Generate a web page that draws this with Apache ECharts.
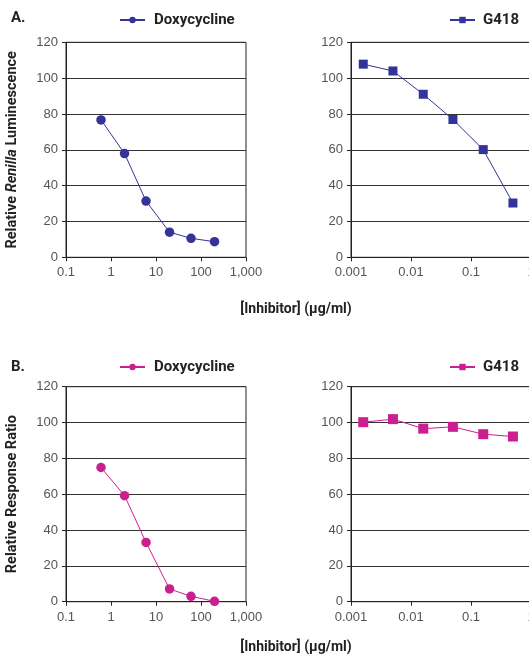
<!DOCTYPE html>
<html>
<head>
<meta charset="utf-8">
<script src="https://cdn.jsdelivr.net/npm/echarts@6/dist/echarts.min.js"></script>
<style>
html,body{margin:0;padding:0;background:#fff;}
#c{width:529px;height:655px;}
</style>
</head>
<body>
<div id="c"></div>
<script>
// ---- data ----
const doxyConc = [0.6, 2, 6, 20, 60, 200];
const g418Conc = [0.0016, 0.005, 0.016, 0.05, 0.16, 0.5];
const doxyLuminescence = [76.7, 57.9, 31.4, 14.0, 10.6, 8.7];
const g418Luminescence = [107.8, 104.0, 91.0, 76.9, 60.1, 30.3];
const doxyRatio = [74.9, 59.2, 33.1, 7.1, 3.0, 0.2];
const g418Ratio = [100.2, 101.9, 96.6, 97.6, 93.5, 92.2];
const yTicks = [0, 20, 40, 60, 80, 100, 120];
const xTicksDoxy = ['0.1', '1', '10', '100', '1,000'];
const xTicksG418 = ['0.001', '0.01', '0.1', '1'];
const seriesNames = {doxA: 'Doxycycline', g418A: 'G418', doxB: 'Doxycycline', g418B: 'G418'};
const yTitleA = '{n|Relative }{i|Renilla}{n| Luminescence}';
const yTitleB = 'Relative Response Ratio';
const xTitle = '[Inhibitor] (\u00b5g/ml)';
const panelLabels = ['A.', 'B.'];

const BLUE = '#333399';
const MAG = '#cc1f8f';
const TICK_FONT = {color: '#555', fontSize: 13, fontFamily: 'Liberation Sans, Arial, sans-serif'};
const TITLE_FONT = 'Roboto, Liberation Sans, sans-serif';

const pair = (xs, ys) => xs.map((x, i) => [x, ys[i]]);

const gridTops = [42.3, 386.7];
const grids = [];
const xAxes = [];
const yAxes = [];
const lefts = [66, 351];
for (let r = 0; r < 2; r++) {
  for (let c = 0; c < 2; c++) {
    grids.push({left: lefts[c], top: gridTops[r], width: 180, height: 215,
      outerBoundsMode: 'none', containLabel: false,
      show: true, borderColor: '#222', borderWidth: 1, backgroundColor: 'transparent'});
    const idx = r * 2 + c;
    const labels = c === 0 ? xTicksDoxy : xTicksG418;
    xAxes.push({
      gridIndex: idx, type: 'log', logBase: 10,
      min: c === 0 ? 0.1 : 0.001, max: c === 0 ? 1000 : 1,
      axisLine: {show: true, onZero: false, lineStyle: {color: '#222', width: 1}},
      axisTick: {show: true, length: 4, inside: false, lineStyle: {color: '#222'}},
      axisLabel: Object.assign({margin: 9, formatter: (v, i) => labels[Math.round(Math.log10(v) - Math.log10(c === 0 ? 0.1 : 0.001))]}, TICK_FONT),
      splitLine: {show: false},
      minorTick: {show: false}
    });
    const y = {
      gridIndex: idx, type: 'value', min: yTicks[0], max: yTicks[yTicks.length - 1], interval: 20,
      axisLine: {show: true, lineStyle: {color: '#222', width: 1}},
      axisTick: {show: true, length: 4, lineStyle: {color: '#222'}},
      axisLabel: Object.assign({margin: 8}, TICK_FONT),
      splitLine: {show: true, lineStyle: {color: '#333', width: 1}}
    };
    if (c === 0) {
      y.name = r === 0 ? yTitleA : yTitleB;
      y.nameLocation = 'middle';
      y.nameGap = 46;
      y.nameTextStyle = {
        color: '#222', fontSize: 14.5, fontWeight: 'bold', fontFamily: TITLE_FONT,
        rich: {
          n: {color: '#222', fontSize: 14.5, fontWeight: 'bold', fontFamily: TITLE_FONT},
          i: {color: '#222', fontSize: 14.5, fontWeight: 'bold', fontStyle: 'italic', fontFamily: TITLE_FONT}
        }
      };
    }
    yAxes.push(y);
  }
}

function mkSeries(id, idx, xs, ys, color, symbol, size) {
  return {
    name: id, type: 'line', xAxisIndex: idx, yAxisIndex: idx,
    data: pair(xs, ys), symbol: symbol, symbolSize: size,
    lineStyle: {color: color, width: 1}, itemStyle: {color: color},
    emphasis: {disabled: true}, animation: false
  };
}

const series = [
  mkSeries('doxA', 0, doxyConc, doxyLuminescence, BLUE, 'circle', 9.5),
  mkSeries('g418A', 1, g418Conc, g418Luminescence, BLUE, 'rect', 9),
  mkSeries('doxB', 2, doxyConc, doxyRatio, MAG, 'circle', 9.5),
  mkSeries('g418B', 3, g418Conc, g418Ratio, MAG, 'rect', 10)
];

function mkLegend(id, left, top, pad) {
  return {
    data: [id], left: left, top: top, padding: 0, itemWidth: 25, itemHeight: 8,
    selectedMode: false,
    formatter: n => seriesNames[n],
    textStyle: {color: '#222', fontSize: 15, fontWeight: 'bold', fontFamily: TITLE_FONT, padding: [0, 0, 0, pad], lineHeight: 16}
  };
}

const legends = [
  mkLegend('doxA', 119, 12, 4),
  mkLegend('g418A', 449, 12, 3),
  mkLegend('doxB', 119, 359, 4),
  mkLegend('g418B', 449, 359, 3)
];

const graphics = [
  {type: 'text', left: 11, top: 11, style: {text: panelLabels[0], fill: '#222', font: 'bold 15px ' + TITLE_FONT}},
  {type: 'text', left: 11, top: 360, style: {text: panelLabels[1], fill: '#222', font: 'bold 15px ' + TITLE_FONT}},
  {type: 'text', x: 296, y: 309, style: {text: xTitle, fill: '#222', font: 'bold 14px ' + TITLE_FONT, align: 'center', verticalAlign: 'middle'}},
  {type: 'text', x: 296, y: 647, style: {text: xTitle, fill: '#222', font: 'bold 14px ' + TITLE_FONT, align: 'center', verticalAlign: 'middle'}}
];

const chart = echarts.init(document.getElementById('c'), null, {renderer: 'canvas'});
chart.setOption({
  animation: false,
  backgroundColor: '#fff',
  grid: grids, xAxis: xAxes, yAxis: yAxes, series: series,
  legend: legends, graphic: graphics
});
</script>
</body>
</html>
